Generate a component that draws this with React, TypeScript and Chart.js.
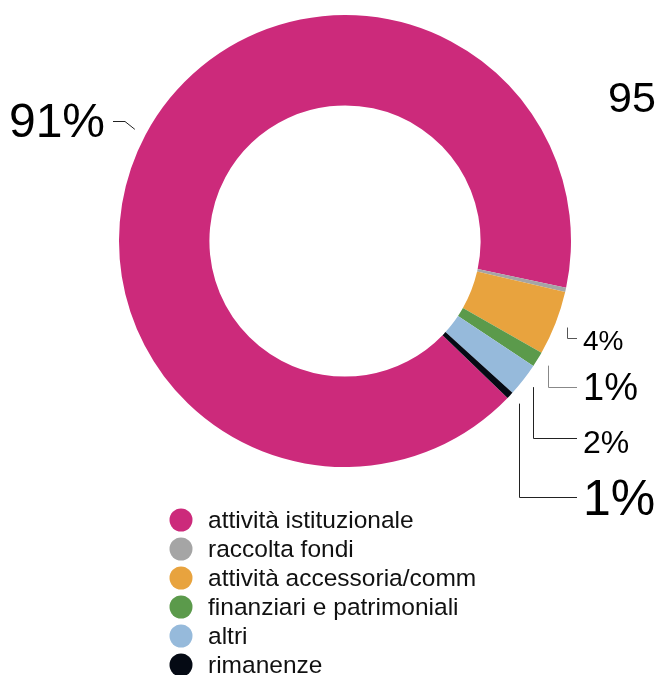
import React, { useEffect, useRef } from "react";
import { Chart, registerables } from "chart.js";

Chart.register(...registerables);

const categories = [
  "attività istituzionale",
  "raccolta fondi",
  "attività accessoria/comm",
  "finanziari e patrimoniali",
  "altri",
  "rimanenze",
];
const values = [91.1, 0.3, 4.6, 1.1, 2.4, 0.5];
const percentLabels = ["91%", "", "4%", "1%", "2%", "1%"];
const colors = ["#CC2A7B", "#A5A5A5", "#E8A33E", "#5B9A4B", "#96BADB", "#050A14"];
const cornerText = "95";

const FONT = "'Liberation Sans', Arial, Helvetica, sans-serif";

// layout for the outside labels (style only)
const labelStyle = [
  { size: 48, lineY: 121, baseline: 137, side: "left" },
  null,
  { size: 28, lineY: 338, baseline: 350, side: "right", color: "#555" },
  { size: 38, lineY: 387, baseline: 400, side: "right", color: "#888" },
  { size: 32, lineY: 438, baseline: 453, side: "right", color: "#222" },
  { size: 50, lineY: 497, baseline: 515, side: "right", color: "#222" },
];

const overlayPlugin = {
  id: "overlay",
  afterDraw(chart: any) {
    const ctx = chart.ctx;
    const meta = chart.getDatasetMeta(0);
    ctx.save();
    meta.data.forEach((arc: any, i: number) => {
      const st = labelStyle[i];
      const txt = percentLabels[i];
      if (!st || !txt) return;
      const p = arc.getProps(["x", "y", "startAngle", "endAngle", "outerRadius"], true);
      const mid = (p.startAngle + p.endAngle) / 2;
      const r = p.outerRadius + 12;
      const sx = p.x + Math.cos(mid) * r;
      const sy = p.y + Math.sin(mid) * r;
      ctx.beginPath();
      ctx.lineWidth = 1;
      ctx.strokeStyle = st.color || "#222";
      ctx.fillStyle = "#000";
      ctx.font = `${st.size}px ${FONT}`;
      ctx.textBaseline = "alphabetic";
      if (st.side === "right") {
        ctx.moveTo(Math.round(sx) + 0.5, sy);
        ctx.lineTo(Math.round(sx) + 0.5, st.lineY + 0.5);
        ctx.lineTo(577, st.lineY + 0.5);
        ctx.stroke();
        ctx.textAlign = "left";
        ctx.fillText(txt, 583, st.baseline);
      } else {
        ctx.moveTo(sx, sy);
        ctx.lineTo(125, st.lineY + 0.5);
        ctx.lineTo(113, st.lineY + 0.5);
        ctx.stroke();
        ctx.textAlign = "right";
        ctx.fillText(txt, 105, st.baseline);
      }
    });

    // corner text
    ctx.font = `43px ${FONT}`;
    ctx.textAlign = "left";
    ctx.fillStyle = "#000";
    ctx.fillText(cornerText, 608, 112);

    // legend
    const labels = chart.data.labels as string[];
    const bg = chart.data.datasets[0].backgroundColor as string[];
    ctx.font = `24.5px ${FONT}`;
    ctx.textBaseline = "middle";
    labels.forEach((lab, i) => {
      const cy = 520 + i * 29;
      ctx.beginPath();
      ctx.fillStyle = bg[i];
      ctx.arc(181, cy, 11.5, 0, Math.PI * 2);
      ctx.fill();
      ctx.fillStyle = "#111";
      ctx.fillText(lab, 208, cy + 1);
    });
    ctx.restore();
  },
};

export default function App() {
  const ref = useRef<HTMLCanvasElement | null>(null);
  useEffect(() => {
    document.body.style.margin = "0";
    const chart = new Chart(ref.current as HTMLCanvasElement, {
      type: "doughnut",
      data: {
        labels: categories,
        datasets: [
          {
            data: values,
            backgroundColor: colors,
            borderWidth: 0,
          },
        ],
      },
      options: {
        responsive: false,
        animation: false,
        cutout: "60%",
        rotation: 134,
        layout: { padding: { left: 119, top: 15, right: 85, bottom: 208 } },
        plugins: {
          legend: { display: false },
          tooltip: { enabled: false },
        },
      },
      plugins: [overlayPlugin],
    } as any);
    return () => chart.destroy();
  }, []);
  return (
    <div style={{ position: "relative", width: 656, height: 675, background: "#fff" }}>
      <canvas ref={ref} width={656} height={675} style={{ display: "block" }} />
    </div>
  );
}
